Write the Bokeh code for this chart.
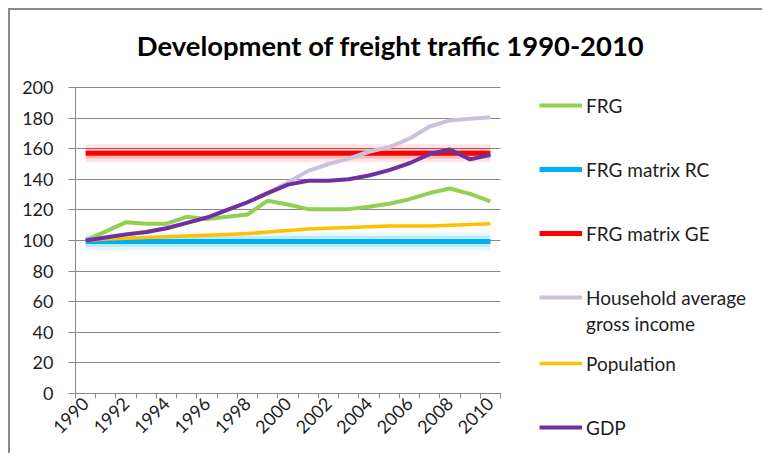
from bokeh.plotting import figure
from bokeh.models import FixedTicker, Legend, LegendItem, Label, Grid
from bokeh.embed import file_html
from bokeh.resources import INLINE
import math

years = [1990, 1991, 1992, 1993, 1994, 1995, 1996, 1997, 1998, 1999, 2000,
         2001, 2002, 2003, 2004, 2005, 2006, 2007, 2008, 2009, 2010]
frg = [100, 106, 112, 111, 111, 115.5, 114, 115.5, 117, 126, 123.5,
       120.5, 120.5, 120.5, 122, 124, 127, 131, 134, 130.5, 125.5]
frg_rc = [99.3, 99.3, 99.3, 99.3, 99.3, 99.3, 99.3, 99.3, 99.3, 99.3, 99.3,
          99.3, 99.3, 99.3, 99.3, 99.3, 99.3, 99.3, 99.3, 99.3, 99.3]
frg_ge = [157, 157, 157, 157, 157, 157, 157, 157, 157, 157, 157,
          157, 157, 157, 157, 157, 157, 157, 157, 157, 157]
household = [100, 102, 104, 105.5, 108, 111.5, 115, 120, 125, 131, 138,
             145.5, 150, 153.5, 158, 161, 166.5, 174.5, 178.5, 179.5, 180.5]
population = [100, 101, 101.5, 102, 102.5, 103, 103.5, 104, 104.5, 105.5, 106.5,
              107.5, 108, 108.5, 109, 109.5, 109.5, 109.5, 110, 110.5, 111]
gdp = [100, 102, 104, 105.5, 108, 111.5, 115, 120, 125, 131, 136.5,
       139, 139, 140, 142.5, 146, 150.5, 156.5, 159.5, 153, 156]
y_ticks = [0, 20, 40, 60, 80, 100, 120, 140, 160, 180, 200]
x_label_years = [1990, 1992, 1994, 1996, 1998, 2000, 2002, 2004, 2006, 2008, 2010]
labels = ["FRG", "FRG matrix RC", "FRG matrix GE", "Household average",
          "gross income", "Population", "GDP"]
colors = ["#92D050", "#00B0F0", "#FF0000", "#CCC0DA", "#FFC000", "#7030A0"]
widths = [4, 5, 5, 4, 3.5, 4]
title_text = "Development of freight traffic 1990-2010"

FONT = "Lato"
GRAY = "#878787"
TXT = "#1e1e1e"

# ---- page geometry (pixels) ----
W, H = 754, 445
CANVAS_X0, CANVAS_Y0 = 10, 10              # page offset of the canvas (margin + border)
PLOT_L, PLOT_R = 75, 500                   # left/right of the chart area
Y200, Y0 = 87, 393                         # page y of value 200 and 0
FRAME_L = CANVAS_X0
FRAME_R = CANVAS_X0 + W
FRAME_T = CANVAS_Y0
FRAME_B = CANVAS_Y0 + H

x_lo, x_hi = years[0] - 0.5, years[-1] + 0.5
ppx = (PLOT_R - PLOT_L) / (x_hi - x_lo)
ppy = (Y0 - Y200) / 200.0

p = figure(width=W, height=H, output_backend="svg", toolbar_location=None,
           x_range=(x_lo - (PLOT_L - FRAME_L) / ppx, x_lo + (FRAME_R - PLOT_L) / ppx),
           y_range=(-(FRAME_B - Y0) / ppy, 200 + (Y200 - FRAME_T) / ppy),
           min_border=0, outline_line_color=None)
p.styles = {"margin": "8px 0 0 8px",
            "border-top": "2px solid #8a8a8a", "border-left": "2px solid #8a8a8a"}

# title
p.add_layout(Label(x=x_lo + (390 - PLOT_L) / ppx, y=200 + (Y200 - 45) / ppy,
                   text=title_text, text_font=FONT, text_font_size="27.4px",
                   text_font_style="bold", text_color="black",
                   text_align="center", text_baseline="middle"))

# axes
p.xaxis.fixed_location = 0
p.xaxis.bounds = (x_lo, x_hi)
p.xaxis.ticker = FixedTicker(ticks=x_label_years,
                             minor_ticks=[y - 0.5 for y in years] + [x_hi])
p.xaxis.major_label_overrides = {y: str(y) for y in x_label_years}
p.xaxis.major_label_orientation = math.pi / 4
p.xaxis.major_tick_line_color = None
p.xaxis.major_tick_out = 4
p.xaxis.major_tick_in = 0
p.xaxis.minor_tick_out = 5
p.xaxis.minor_tick_in = 0
p.xaxis.minor_tick_line_color = GRAY
p.xaxis.major_label_standoff = 2

p.yaxis.fixed_location = x_lo
p.yaxis.bounds = (0, 200)
p.yaxis.ticker = FixedTicker(ticks=y_ticks)
p.yaxis.major_tick_out = 7
p.yaxis.major_tick_in = 0
p.yaxis.minor_tick_line_color = None
p.yaxis.major_tick_line_color = GRAY
p.yaxis.major_label_standoff = 15

for ax in (p.xaxis, p.yaxis):
    ax.axis_line_color = GRAY
    ax.major_label_text_font = FONT
    ax.major_label_text_font_size = "18px"
    ax.major_label_text_color = TXT

p.xgrid.grid_line_color = None
if "cross_bounds" in Grid.properties():
    p.ygrid.grid_line_color = GRAY
    p.ygrid.ticker = FixedTicker(ticks=y_ticks)
    p.ygrid.cross_bounds = (x_lo, x_hi)
else:
    p.ygrid.grid_line_color = None
    p.segment(x0=[x_lo] * len(y_ticks[1:]), x1=[x_hi] * len(y_ticks[1:]),
              y0=y_ticks[1:], y1=y_ticks[1:], line_color=GRAY, line_width=1)

# soft glow under the two matrix lines
for vals, c in ((frg_rc, colors[1]), (frg_ge, colors[2])):
    p.line(years, vals, line_color=c, line_width=18, line_alpha=0.10)
    p.line(years, vals, line_color=c, line_width=11, line_alpha=0.18)

series = [frg, frg_rc, frg_ge, household, population, gdp]
rs = [p.line(years, vals, line_color=c, line_width=w)
      for vals, c, w in zip(series, colors, widths)]
r_blank = p.line(years, household, line_alpha=0)   # carrier for the wrapped label line


def add_legend(items, top_center):
    n = len(items)
    lg = Legend(items=[LegendItem(label=lab, renderers=[r]) for lab, r in items])
    lg.padding = 0
    lg.margin = 0
    lg.border_line_color = None
    lg.background_fill_alpha = 0
    lg.glyph_width = 43
    lg.glyph_height = 24
    lg.label_height = 24
    lg.spacing = 40
    lg.label_standoff = 4
    lg.label_text_font = FONT
    lg.label_text_font_size = "19px"
    lg.label_text_color = TXT
    height = n * 24 + (n - 1) * 40
    bottom = top_center - 12 + height
    lg.location = (539 - FRAME_L, FRAME_B - bottom)
    p.add_layout(lg)


add_legend([(labels[0], rs[0]), (labels[1], rs[1]), (labels[2], rs[2]),
            (labels[3], rs[3])], 105)
add_legend([(labels[4], r_blank)], 323)
add_legend([(labels[5], rs[4]), (labels[6], rs[5])], 363)

open("out.html", "w").write(file_html(p, INLINE))
